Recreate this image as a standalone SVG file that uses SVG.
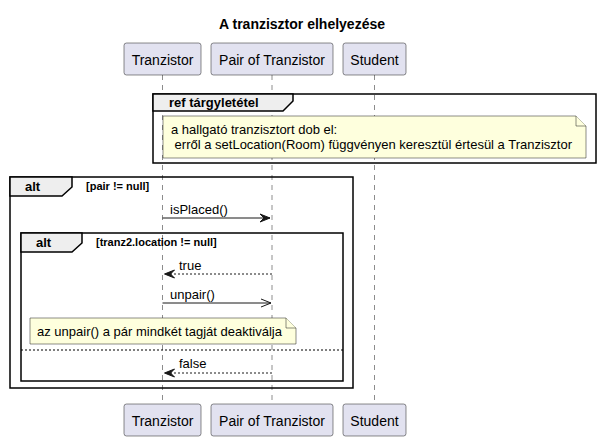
<svg xmlns="http://www.w3.org/2000/svg" width="600" height="441" viewBox="0 0 600 441">
<style>
text{font-family:"Liberation Sans",Arial,sans-serif;fill:#000000}
.part rect{fill:#E2E2F0;stroke:#181818;stroke-width:0.5}
.part text{font-size:14px}
.life{stroke:#181818;stroke-width:0.5;stroke-dasharray:5,5;fill:none}
.frame{fill:none;stroke:#000000;stroke-width:1.5}
.tab{fill:#EEEEEE;stroke:#000000;stroke-width:1.5}
.ftitle{font-size:13px;font-weight:bold}
.guard{font-size:11px;font-weight:bold}
.note path{fill:#FEFFDD;stroke:#181818;stroke-width:0.5}
.note text{font-size:13px}
.msg{stroke:#181818;stroke-width:1;fill:none}
.ret{stroke:#181818;stroke-width:1;fill:none;stroke-dasharray:2,2}
.head{fill:#181818;stroke:#181818;stroke-width:1}
.mtext{font-size:13px}
</style>
<text x="302" y="29" text-anchor="middle" font-size="14" font-weight="bold">A tranzisztor elhelyezése</text>
<g id="lifelines">
<line class="life" x1="162.5" y1="75" x2="162.5" y2="404"/>
<line class="life" x1="272" y1="75" x2="272" y2="404"/>
<line class="life" x1="374.5" y1="75" x2="374.5" y2="404"/>
</g>
<g id="Tranzistor" class="part">
<rect x="124" y="43" width="77" height="32" rx="2.5"/>
<text x="162.5" y="64.5" text-anchor="middle">Tranzistor</text>
<rect x="124" y="404" width="77" height="32" rx="2.5"/>
<text x="162.5" y="425.5" text-anchor="middle">Tranzistor</text>
</g>
<g id="PairOfTranzistor" class="part">
<rect x="211" y="43" width="122" height="32" rx="2.5"/>
<text x="272" y="64.5" text-anchor="middle">Pair of Tranzistor</text>
<rect x="211" y="404" width="122" height="32" rx="2.5"/>
<text x="272" y="425.5" text-anchor="middle">Pair of Tranzistor</text>
</g>
<g id="Student" class="part">
<rect x="343" y="43" width="63" height="32" rx="2.5"/>
<text x="374.5" y="64.5" text-anchor="middle">Student</text>
<rect x="343" y="404" width="63" height="32" rx="2.5"/>
<text x="374.5" y="425.5" text-anchor="middle">Student</text>
</g>
<g id="ref">
<rect class="frame" x="153" y="94" width="443" height="69"/>
<path class="tab" d="M153,94 H293 V101 L283,111 H153 Z"/>
<text class="ftitle" x="169" y="107">ref tárgyletétel</text>
</g>
<g id="note1" class="note">
<path d="M163,116 H576 L586,126 V158 H163 Z"/>
<path d="M576,116 V126 H586" fill="none"/>
<text x="171" y="134">a hallgató tranzisztort dob el:</text>
<text x="171" y="149" xml:space="preserve"> erről a setLocation(Room) függvényen keresztül értesül a Tranzisztor</text>
</g>
<g id="altOuter">
<rect class="frame" x="10" y="177" width="343" height="211"/>
<path class="tab" d="M10,177 H72 V187 L62,196 H10 Z"/>
<text class="ftitle" x="25" y="191">alt</text>
<text class="guard" x="86" y="190">[pair != null]</text>
</g>
<g id="altInner">
<rect class="frame" x="21" y="233" width="322" height="148"/>
<path class="tab" d="M21,233 H82 V243 L72,252 H21 Z"/>
<text class="ftitle" x="36" y="247">alt</text>
<text class="guard" x="96" y="246">[tranz2.location != null]</text>
<line x1="21" y1="350" x2="343" y2="350" stroke="#000000" stroke-width="1" stroke-dasharray="2,2"/>
</g>
<g id="note2" class="note">
<path d="M30,318 H286 L296,328 V344 H30 Z"/>
<path d="M286,318 V328 H296" fill="none"/>
<text x="37" y="336">az unpair() a pár mindkét tagját deaktiválja</text>
</g>
<g id="connectors">
<line class="msg" x1="162.5" y1="218" x2="270" y2="218"/>
<polygon class="head" points="260,214 270,218 260,222 264,218"/>
<text class="mtext" x="170" y="214">isPlaced()</text>
<line class="ret" x1="272" y1="274" x2="165" y2="274"/>
<polygon class="head" points="174.5,270 164.5,274 174.5,278 170.5,274"/>
<text class="mtext" x="179" y="270">true</text>
<line class="msg" x1="162.5" y1="303" x2="271" y2="303"/>
<path class="msg" d="M261,299 L271,303 L261,307"/>
<text class="mtext" x="170" y="299">unpair()</text>
<line class="ret" x1="272" y1="373" x2="165" y2="373"/>
<polygon class="head" points="174.5,369 164.5,373 174.5,377 170.5,373"/>
<text class="mtext" x="179" y="368">false</text>
</g>
</svg>
